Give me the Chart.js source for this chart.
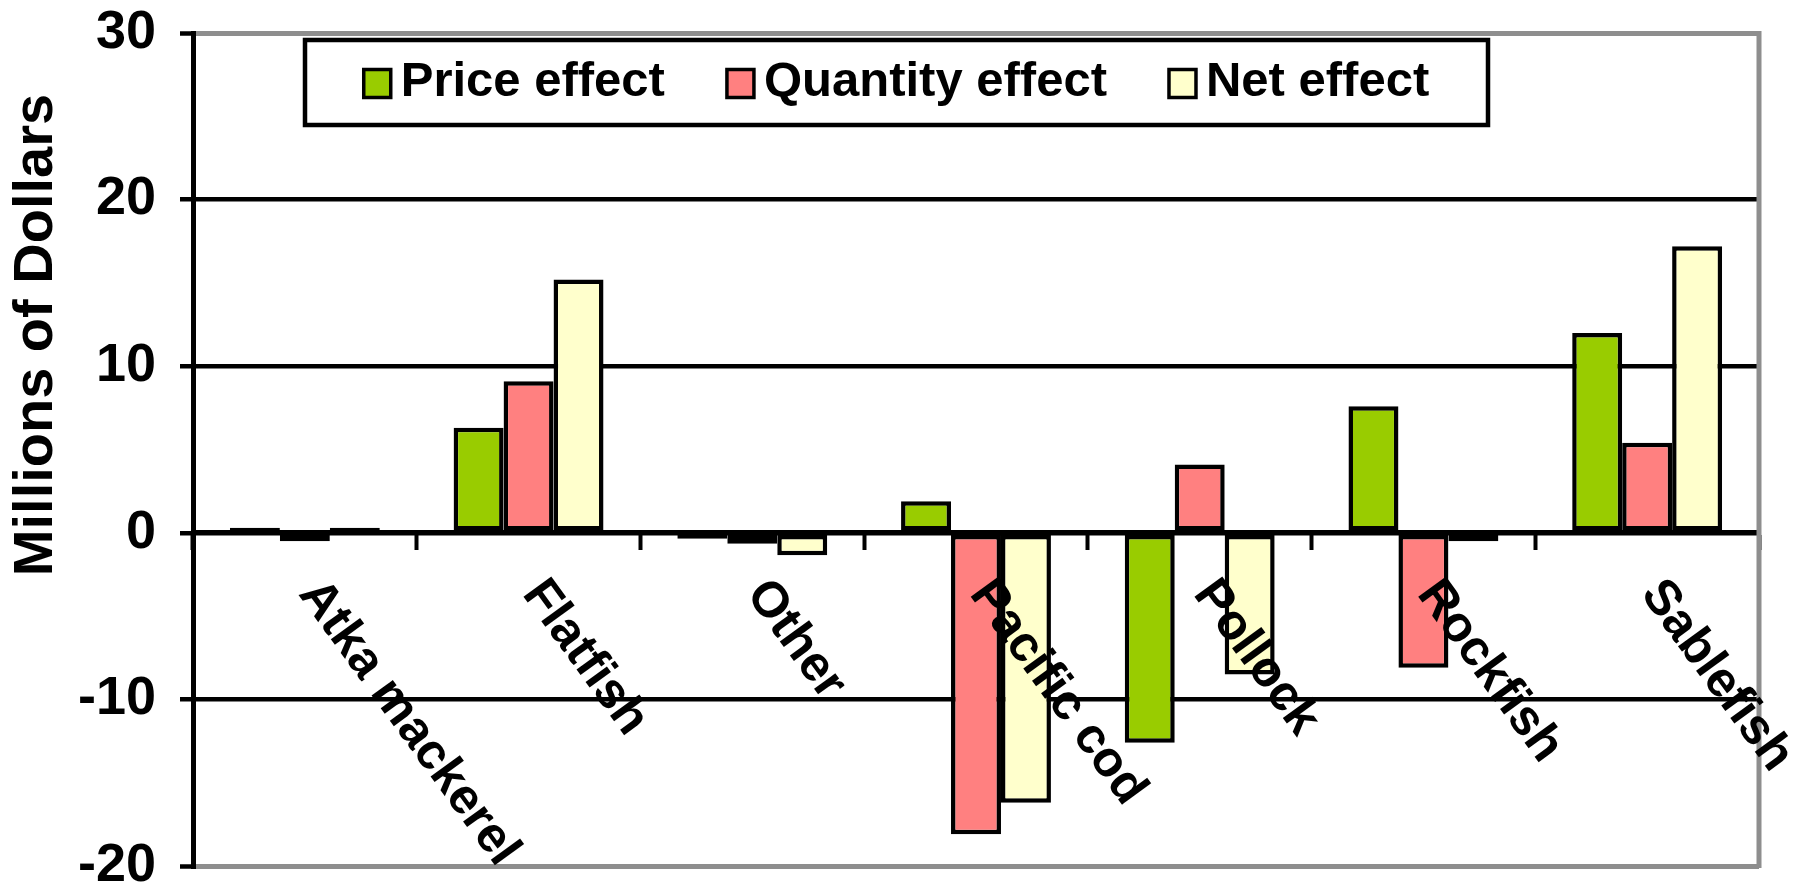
<!DOCTYPE html>
<html>
<head>
<meta charset="utf-8">
<script src="https://cdn.jsdelivr.net/npm/chart.js@4.4.0/dist/chart.umd.min.js"></script>
<style>
  html, body { margin: 0; padding: 0; background: #ffffff; }
  #wrap { width: 1795px; height: 889px; }
</style>
</head>
<body>
<div id="wrap"><canvas id="c" width="1795" height="889"></canvas></div>
<script>
// Revenue change by species group, split into price and quantity effects
const categories = ['Atka mackerel', 'Flatfish', 'Other', 'Pacific cod', 'Pollock', 'Rockfish', 'Sablefish'];
const priceEffect    = [0.3, 6.3, -0.35, 1.9, -12.6, 7.6, 12.0];
const quantityEffect = [-0.5, 9.1, -0.65, -18.1, 4.1, -8.1, 5.4];
const netEffect      = [0.3, 15.2, -1.35, -16.2, -8.5, -0.5, 17.2];
const seriesNames  = ['Price effect', 'Quantity effect', 'Net effect'];
const seriesColors = ['#99CC00', '#FF8080', '#FFFFCC'];
const yTickValues  = [-20, -10, 0, 10, 20, 30];
const yAxisTitle   = 'Millions of Dollars';

const FONT = '"Liberation Sans", Arial, Helvetica, sans-serif';
const FRAME_GRAY = '#8e8e8e';

// Plot frame edge, rotated category labels, axis title and boxed legend
const decorations = {
  id: 'decorations',
  beforeDatasetsDraw(chart) {
    const { ctx, chartArea } = chart;
    ctx.save();
    ctx.strokeStyle = FRAME_GRAY;
    ctx.lineWidth = 5;
    ctx.beginPath();
    ctx.moveTo(chartArea.right, chartArea.top - 2);
    ctx.lineTo(chartArea.right, chartArea.bottom + 2);
    ctx.stroke();
    ctx.restore();
  },
  afterDatasetsDraw(chart) {
    const { ctx } = chart;
    const xs = chart.scales.x, ys = chart.scales.y;
    const y0 = ys.getPixelForValue(0);
    ctx.save();
    ctx.font = 'bold 50px ' + FONT;
    ctx.fillStyle = '#000';
    ctx.textAlign = 'left';
    ctx.textBaseline = 'middle';
    categories.forEach((name, i) => {
      const x = xs.getPixelForValue(i);
      ctx.save();
      ctx.translate(x + 4, y0 + 53);
      ctx.rotate(54 * Math.PI / 180);
      ctx.fillText(name, 0, 0);
      ctx.restore();
    });
    ctx.restore();
  },
  afterDraw(chart) {
    const { ctx, chartArea } = chart;
    // vertical axis title
    ctx.save();
    ctx.font = 'bold 56px ' + FONT;
    ctx.fillStyle = '#000';
    ctx.textAlign = 'center';
    ctx.textBaseline = 'middle';
    ctx.translate(37, 335);
    ctx.rotate(-Math.PI / 2);
    ctx.fillText(yAxisTitle, 0, 0);
    ctx.restore();

    // legend box inside the plot area
    const boxL = chartArea.left + 112, boxR = chartArea.left + 1295;
    const boxT = chartArea.top + 7, boxB = chartArea.top + 92;
    ctx.save();
    ctx.fillStyle = '#fff';
    ctx.fillRect(boxL, boxT, boxR - boxL, boxB - boxT);
    ctx.strokeStyle = '#000';
    ctx.lineWidth = 4.5;
    ctx.strokeRect(boxL, boxT, boxR - boxL, boxB - boxT);
    ctx.font = 'bold 49px ' + FONT;
    ctx.textAlign = 'left';
    ctx.textBaseline = 'middle';
    const sw = 27, sh = 28, gapText = 10, gapItem = 62;
    const widths = seriesNames.map(n => ctx.measureText(n).width);
    const total = widths.reduce((a, b) => a + b, 0) + seriesNames.length * (sw + gapText) + gapItem * (seriesNames.length - 1);
    let x = (boxL + boxR) / 2 - total / 2;
    const cy = (boxT + boxB) / 2;
    seriesNames.forEach((name, i) => {
      ctx.fillStyle = seriesColors[i];
      ctx.fillRect(x, cy - sh / 2 + 1, sw, sh);
      ctx.strokeStyle = '#000';
      ctx.lineWidth = 3.5;
      ctx.strokeRect(x, cy - sh / 2 + 1, sw, sh);
      ctx.fillStyle = '#000';
      ctx.fillText(name, x + sw + gapText, cy);
      x += sw + gapText + widths[i] + gapItem;
    });
    ctx.restore();
  }
};

const datasets = [priceEffect, quantityEffect, netEffect].map((values, i) => ({
  label: seriesNames[i],
  data: values,
  backgroundColor: seriesColors[i],
  borderColor: '#000',
  borderWidth: 4.5,
  borderSkipped: false,
  barPercentage: 1.0,
  categoryPercentage: 0.67
}));

new Chart(document.getElementById('c'), {
  type: 'bar',
  data: { labels: categories, datasets },
  options: {
    responsive: false,
    devicePixelRatio: 1,
    animation: false,
    layout: { padding: { left: 0, top: 33, right: 36, bottom: 23 } },
    plugins: { legend: { display: false }, tooltip: { enabled: false } },
    scales: {
      x: {
        type: 'category',
        position: { y: 0 },
        offset: true,
        ticks: { display: false },
        grid: {
          display: true,
          offset: true,
          drawOnChartArea: false,
          drawTicks: true,
          tickLength: 15,
          tickWidth: 4,
          tickColor: '#000'
        },
        border: { display: true, color: '#000', width: 5 },
        afterFit(s) { s.height = 0; s.paddingLeft = 0; s.paddingRight = 0; }
      },
      y: {
        min: -20,
        max: 30,
        afterBuildTicks(s) { s.ticks = yTickValues.map(v => ({ value: v })); },
        ticks: {
          color: '#000',
          padding: 24,
          font: { family: FONT, weight: 'bold', size: 54 }
        },
        grid: {
          color: c => (c.tick && (c.tick.value === 30 || c.tick.value === -20)) ? FRAME_GRAY : '#000',
          lineWidth: c => (c.tick && (c.tick.value === 30 || c.tick.value === -20)) ? 5 : 4.5,
          tickLength: 13,
          tickWidth: 4.5,
          tickColor: '#000'
        },
        border: { display: true, color: '#000', width: 5 },
        afterFit(s) { s.width = 193; s.paddingTop = 0; s.paddingBottom = 0; }
      }
    }
  },
  plugins: [decorations]
});
</script>
</body>
</html>
